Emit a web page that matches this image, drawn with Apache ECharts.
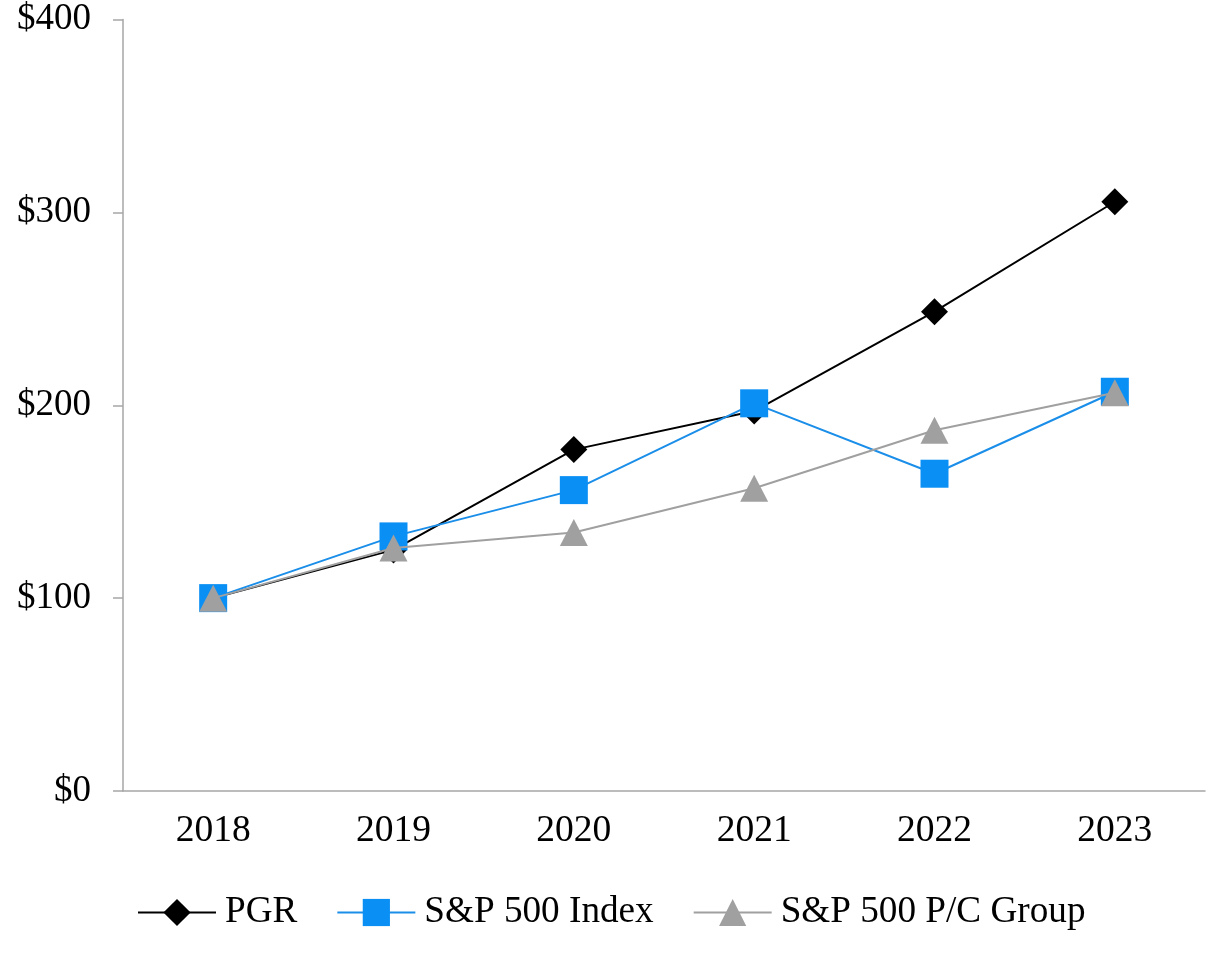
<!DOCTYPE html>
<html>
<head>
<meta charset="utf-8">
<script src="https://cdn.jsdelivr.net/npm/echarts@6/dist/echarts.min.js"></script>
<style>html,body{margin:0;padding:0;background:#fff}#c{width:1226px;height:960px}</style>
</head>
<body>
<div id="c"></div>
<script>
const years = ['2018','2019','2020','2021','2022','2023'];
const pgr = [100, 125, 177, 197, 248.5, 305.5];
const sp500 = [100, 132, 156, 201, 164.5, 207];
const pcGroup = [100, 126, 134, 157, 187, 206.5];
const yTicks = [0, 100, 200, 300, 400];

const font = 'Liberation Serif';
const chart = echarts.init(document.getElementById('c'));
chart.setOption({
  animation: false,
  backgroundColor: '#fff',
  grid: { left: 123, right: 21, top: 19.5, bottom: 169, containLabel: false },
  legend: {
    bottom: 24,
    left: 132,
    itemWidth: 78,
    itemHeight: 34,
    itemGap: 39,
    textStyle: { fontFamily: font, fontSize: 37.2, color: '#000', padding: [0,0,0,4] },
    data: ['PGR', 'S&P 500 Index', 'S&P 500 P/C Group']
  },
  xAxis: {
    type: 'category',
    data: years,
    boundaryGap: true,
    axisLine: { lineStyle: { color: '#a6a6a6', width: 1.5 } },
    axisTick: { alignWithLabel: true, length: 10, lineStyle: { color: '#a6a6a6', width: 1.5 } },
    axisLabel: { fontFamily: font, fontSize: 37.5, color: '#000', margin: 21 }
  },
  yAxis: {
    type: 'value',
    min: 0, max: 400, interval: 100,
    splitLine: { show: false },
    axisLine: { show: true, lineStyle: { color: '#a6a6a6', width: 1.5 } },
    axisTick: { show: true, length: 10, lineStyle: { color: '#a6a6a6', width: 1.5 } },
    axisLabel: { fontFamily: font, fontSize: 37, color: '#000', margin: 32,
      formatter: v => yTicks.includes(v) ? '$' + v : '' }
  },
  series: [
    { name: 'PGR', type: 'line', data: pgr, symbol: 'diamond', symbolSize: 27,
      itemStyle: { color: '#000' }, lineStyle: { color: '#000', width: 2 }, z: 2 },
    { name: 'S&P 500 Index', type: 'line', data: sp500, symbol: 'rect', symbolSize: 28,
      itemStyle: { color: '#0a8ff5' }, lineStyle: { color: '#1a8ee8', width: 2 }, z: 3 },
    { name: 'S&P 500 P/C Group', type: 'line', data: pcGroup, symbol: 'triangle', symbolSize: [28, 27],
      itemStyle: { color: '#a0a0a0' }, lineStyle: { color: '#a0a0a0', width: 2 }, z: 4 }
  ]
});
</script>
</body>
</html>
